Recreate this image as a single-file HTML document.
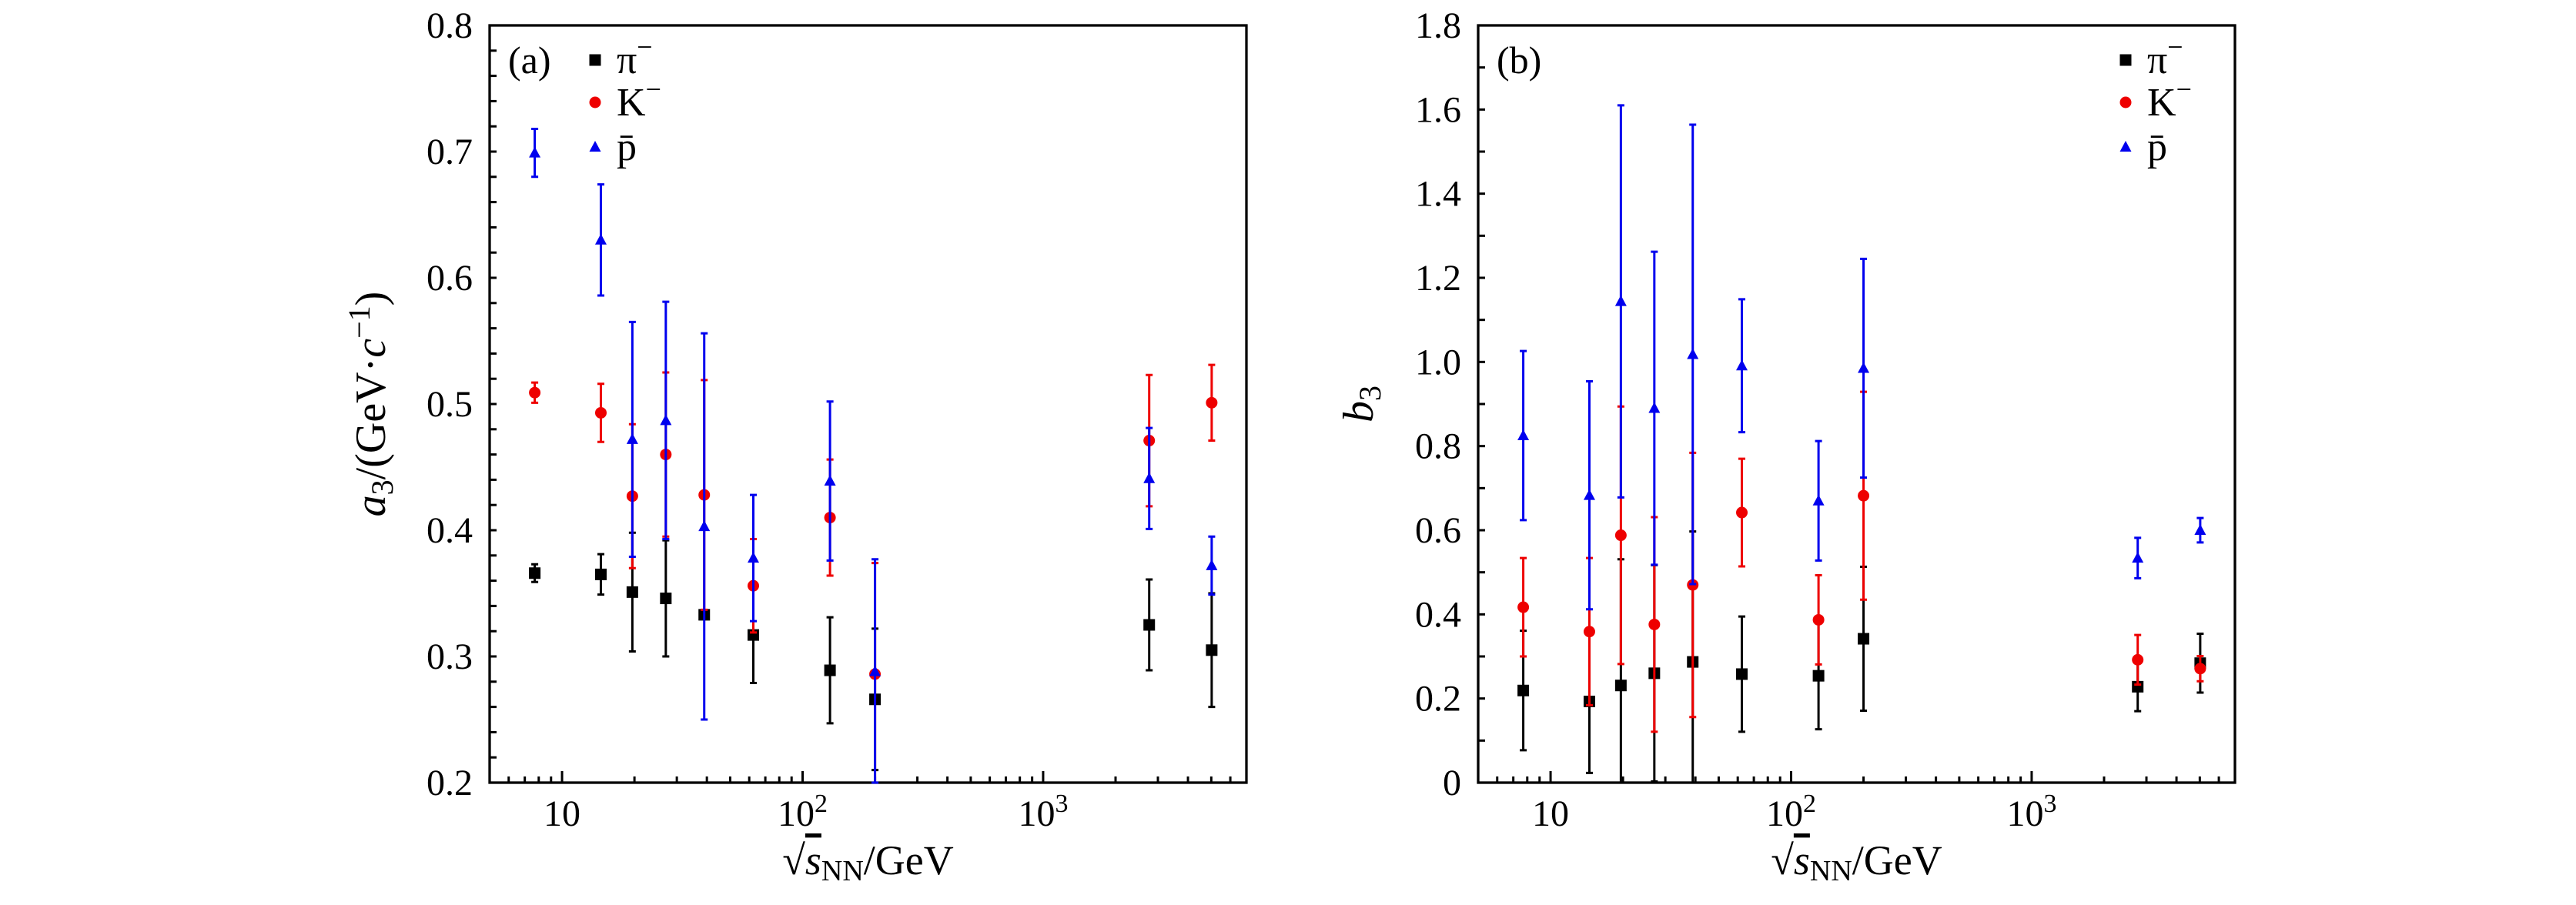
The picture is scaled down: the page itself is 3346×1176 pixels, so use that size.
<!DOCTYPE html>
<html><head><meta charset="utf-8">
<style>
html,body{margin:0;padding:0;background:#fff;}
svg, svg text{font-family:"Liberation Serif","DejaVu Serif",serif;}
</style></head>
<body>
<svg id="chart" width="3346" height="1171" viewBox="0 0 3346 1171" font-family="Liberation Serif, DejaVu Serif, serif" xmlns="http://www.w3.org/2000/svg"></svg>
<script>
const energies = [7.7, 14.5, 19.6, 27, 39, 62.4, 130, 200, 2760, 5020];
// panel (a)
const aPi  = [0.366, 0.365, 0.351, 0.346, 0.333, 0.317, 0.289, 0.266, 0.325, 0.305];
const aPiE = [0.007, 0.016, 0.047, 0.046, 0.000, 0.038, 0.042, 0.056, 0.036, 0.045];
const aK   = [0.509, 0.493, 0.427, 0.460, 0.428, 0.356, 0.410, 0.286, 0.471, 0.501];
const aKE  = [0.008, 0.023, 0.057, 0.065, 0.091, 0.037, 0.046, 0.088, 0.052, 0.030];
const aP   = [0.699, 0.630, 0.472, 0.487, 0.403, 0.378, 0.439, 0.288, 0.441, 0.372];
const aPE  = [0.019, 0.044, 0.093, 0.094, 0.153, 0.050, 0.063, 0.089, 0.040, 0.023];
// panel (b)
const bPi  = [0.219, 0.193, 0.231, 0.260, 0.287, 0.258, 0.254, 0.342, 0.228, 0.284];
const bPiE = [0.142, 0.170, 0.300, 0.257, 0.310, 0.137, 0.127, 0.171, 0.058, 0.070];
const bK   = [0.417, 0.359, 0.588, 0.376, 0.470, 0.642, 0.387, 0.682, 0.292, 0.271];
const bKE  = [0.117, 0.175, 0.306, 0.255, 0.314, 0.128, 0.106, 0.247, 0.059, 0.030];
const bP   = [0.825, 0.683, 1.144, 0.890, 1.018, 0.991, 0.670, 0.985, 0.534, 0.600];
const bPE  = [0.201, 0.271, 0.466, 0.372, 0.546, 0.158, 0.142, 0.260, 0.048, 0.029];
const aYTicks = [0.2, 0.3, 0.4, 0.5, 0.6, 0.7, 0.8];
const bYTicks = [0, 0.2, 0.4, 0.6, 0.8, 1.0, 1.2, 1.4, 1.6, 1.8];
const xTicks = [10, 100, 1000];

const NS = "http://www.w3.org/2000/svg";
const FF = '"Liberation Serif", "DejaVu Serif", serif';
const svg = document.getElementById('chart');
function mk(tag, attrs, parent) {
  const e = document.createElementNS(NS, tag);
  for (const k in attrs) e.setAttribute(k, attrs[k]);
  if (tag === 'text') e.style.fontFamily = FF;
  (parent || svg).appendChild(e);
  return e;
}

function panel(o) {
  const g = mk('g', {});
  
  
  const L = o.left, R = o.left + 983, T = 33, B = 1017;
  const lx0 = Math.log10(5), lx1 = Math.log10(7000);
  const xs = v => L + (Math.log10(v) - lx0) / (lx1 - lx0) * (R - L);
  const ys = v => B - (v - o.ymin) / (o.ymax - o.ymin) * (B - T);
  for (let v = o.ymin; v <= o.ymax + 1e-9; v += o.minor) {
    const y = ys(v);
    const t = mk('line', {x1: L, x2: L + 9, y1: y, y2: y, stroke: '#000', 'stroke-width': 3}, g);
    
    
  }
  o.yticks.forEach(v => {
    const t = mk('text', {x: L - 22, y: ys(v) + 16, 'text-anchor': 'end', 'font-size': 48}, g);
    t.textContent = o.fmt(v);
    
    
  });
  for (let d = 1; d <= 1000; d *= 10) {
    for (let m = 1; m <= 9; m++) {
      const v = d * m;
      if (v < 5 || v > 7000) continue;
      const x = xs(v);
      const len = m === 1 ? 15 : 8;
      const t = mk('line', {x1: x, x2: x, y1: B, y2: B - len, stroke: '#000', 'stroke-width': 3}, g);
      
      
    }
  }
  xTicks.forEach(v => {
    const t = mk('text', {x: xs(v), y: 1073, 'text-anchor': 'middle', 'font-size': 48}, g);
    t.textContent = '10';
    if (v !== 10) {
      const s = mk('tspan', {dy: -18, 'font-size': 34}, t);
      s.textContent = String(Math.round(Math.log10(v)));
    }
    
    
  });
  const f = mk('rect', {x: L, y: T, width: R - L, height: B - T, fill: 'none', stroke: '#000', 'stroke-width': 3.3}, g);
  
  
  const series = [
    {v: o.pi, e: o.piE, c: '#000', shape: 'square', n: 'pi-minus'},
    {v: o.k, e: o.kE, c: '#e00', shape: 'circle', n: 'k-minus'},
    {v: o.p, e: o.pE, c: '#00e', shape: 'triangle', n: 'antiproton'}
  ];
  series.forEach(s => {
    const sg = mk('g', {}, g);
    
    
    energies.forEach((en, i) => {
      const x = xs(en), y = ys(s.v[i]);
      const y1 = Math.max(T, Math.min(B, ys(s.v[i] + s.e[i])));
      const y2 = Math.max(T, Math.min(B, ys(s.v[i] - s.e[i])));
      if (s.e[i] > 0) {
        const eb = mk('path', {d: `M${x},${y1}V${y2}M${x-4.5},${y1}H${x+4.5}M${x-4.5},${y2}H${x+4.5}`, stroke: s.c, 'stroke-width': 3, fill: 'none'}, sg);
        
        
      }
      marker(sg, s.shape, x, y, s.c);
    });
  });
  const labels = [['π', '−'], ['K', '−'], ['p̄', '']];
  const ly = [78, 133, 191];
  series.forEach((s, i) => {
    const lg = mk('g', {}, g);
    
    
    marker(lg, s.shape, o.legX, ly[i], s.c);
    const t = mk('text', {x: o.legX + 28, y: ly[i] + 17, 'font-size': 52}, lg);
    t.textContent = labels[i][0];
    if (labels[i][1]) { const sp = mk('tspan', {dy: -22, 'font-size': 36}, t); sp.textContent = labels[i][1]; }
  });
  const pl = mk('text', {x: L + 24, y: 95, 'font-size': 50}, g);
  pl.textContent = o.tag;
  
  
  const xl = mk('text', {x: (L + R) / 2, y: 1136, 'text-anchor': 'middle', 'font-size': 54}, g);
  
  
  xl.innerHTML = '√<tspan font-style="italic" text-decoration="overline">s</tspan><tspan font-size="38" dy="8">NN</tspan><tspan dy="-8">/GeV</tspan>';
  const yl = mk('text', {x: 0, y: 0, 'text-anchor': 'middle', 'font-size': 56, transform: `translate(${o.ylx},525) rotate(-90)`}, g);
  
  
  yl.innerHTML = o.ylab;
}

function marker(parent, shape, x, y, c) {
  let m;
  if (shape === 'square') m = mk('rect', {x: x - 7.5, y: y - 7.5, width: 15, height: 15, fill: c}, parent);
  else if (shape === 'circle') m = mk('circle', {cx: x, cy: y, r: 7.5, fill: c}, parent);
  else m = mk('polygon', {points: `${x},${y-8} ${x+7.5},${y+6} ${x-7.5},${y+6}`, fill: c}, parent);
  
  
}

panel({name: 'panel-a', tag: '(a)', left: 636, ymin: 0.2, ymax: 0.8, minor: 0.02, yticks: aYTicks,
  fmt: v => v.toFixed(1), pi: aPi, piE: aPiE, k: aK, kE: aKE, p: aP, pE: aPE, legX: 773, ylx: 500,
  ylab: '<tspan font-style="italic">a</tspan><tspan font-size="40" dy="10">3</tspan><tspan dy="-10">/(GeV·</tspan><tspan font-style="italic">c</tspan><tspan font-size="40" dy="-20">−1</tspan><tspan dy="20">)</tspan>'});
panel({name: 'panel-b', tag: '(b)', left: 1920, ymin: 0, ymax: 1.8, minor: 0.1, yticks: bYTicks,
  fmt: v => v === 0 ? '0' : v.toFixed(1), pi: bPi, piE: bPiE, k: bK, kE: bKE, p: bP, pE: bPE, legX: 2761, ylx: 1783,
  ylab: '<tspan font-style="italic">b</tspan><tspan font-size="40" dy="10">3</tspan>'});
</script>
</body></html>
